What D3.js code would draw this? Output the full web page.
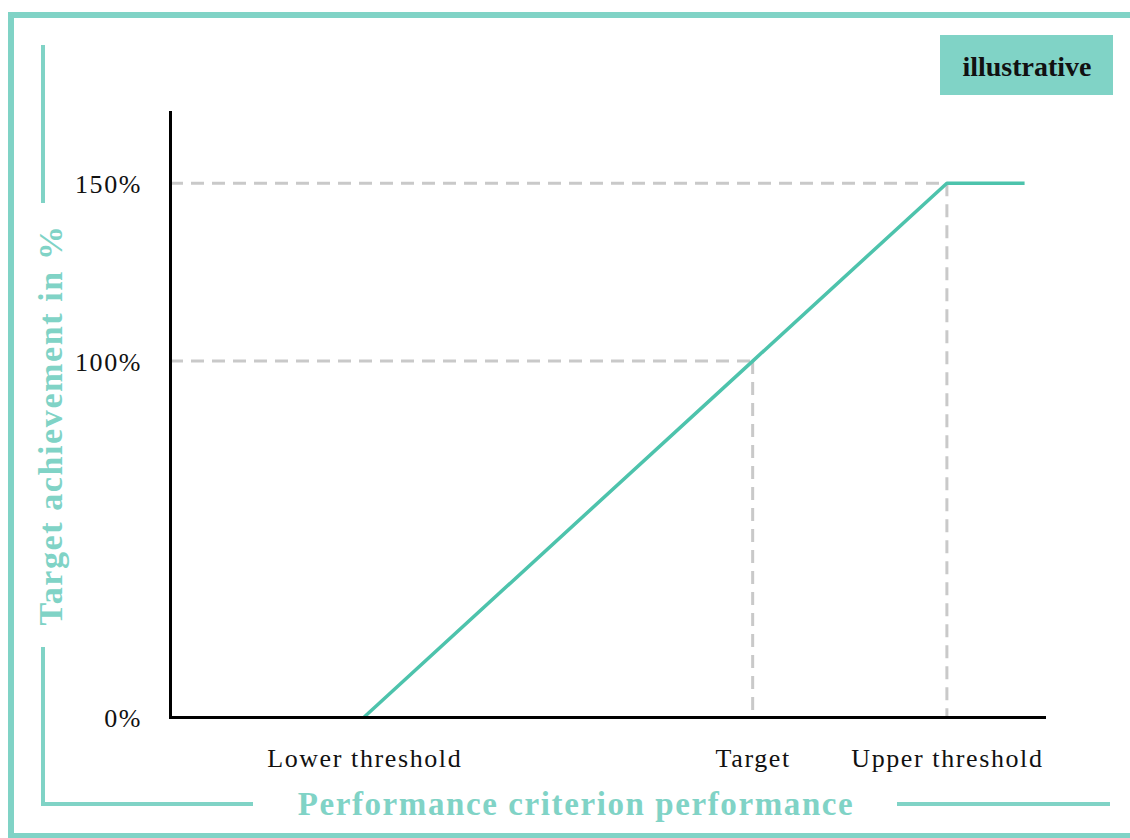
<!DOCTYPE html>
<html>
<head>
<meta charset="utf-8">
<script src="https://cdn.jsdelivr.net/npm/d3@7"></script>
<style>
  html, body { margin: 0; padding: 0; background: #ffffff; }
  svg { display: block; }
  text { font-family: "Liberation Serif", "Times New Roman", serif; }
</style>
</head>
<body>
<svg id="chart" width="1130" height="838"></svg>
<script>
// Payout curve: performance (x) vs. target achievement (y)
const xKeys = ["Lower threshold", "Target", "Upper threshold"];
const xKeyValues = [0, 100, 150];
const yTickValues = [0, 100, 150];
const yTickLabels = ["0%", "100%", "150%"];
const curveX = [0, 100, 150, 170];
const curveY = [0, 100, 150, 150];
const yTitle = "Target achievement in %";
const xTitle = "Performance criterion performance";
const badgeText = "illustrative";

const teal = "#80d3c6";
const lineTeal = "#4dc3ac";
const dashGrey = "#c9c9c9";

const svg = d3.select("#chart");

const x = d3.scaleLinear().domain([-50, 175]).range([170, 1044]);
const y = d3.scaleLinear().domain([0, 170]).range([717, 112]);

// Outer frame (open on the right side)
svg.append("path")
  .attr("d", "M1140,15 H11 V836 H1140")
  .attr("fill", "none")
  .attr("stroke", teal)
  .attr("stroke-width", 6);

// Inner bracket around the axis titles
const bracket = svg.append("g")
  .attr("stroke", teal)
  .attr("stroke-width", 4)
  .attr("fill", "none");
bracket.append("path").attr("d", "M43,45 V203");
bracket.append("path").attr("d", "M43,647 V804 H253");
bracket.append("path").attr("d", "M897,804 H1110");

// "illustrative" badge
svg.append("rect")
  .attr("x", 940).attr("y", 35)
  .attr("width", 173).attr("height", 60)
  .attr("fill", teal);
svg.append("text")
  .attr("x", 1027).attr("y", 76)
  .attr("text-anchor", "middle")
  .attr("font-weight", "bold")
  .attr("font-size", 28)
  .attr("fill", "#111")
  .text(badgeText);

// Reference guides (dashed) from the axes to the curve's key points
const guides = svg.append("g")
  .attr("stroke", dashGrey)
  .attr("stroke-width", 3)
  .attr("stroke-dasharray", "13,8")
  .attr("fill", "none");
xKeyValues.forEach((v, i) => {
  const yv = curveY[curveX.indexOf(v)];
  if (yv > 0) {
    guides.append("line")
      .attr("x1", x.range()[0]).attr("x2", x(v))
      .attr("y1", y(yv)).attr("y2", y(yv));
    guides.append("line")
      .attr("x1", x(v)).attr("x2", x(v))
      .attr("y1", y(yv)).attr("y2", y(0));
  }
});

// Curve
const pts = curveX.map((v, i) => [v, curveY[i]]);
svg.append("path")
  .datum(pts)
  .attr("fill", "none")
  .attr("stroke", lineTeal)
  .attr("stroke-width", 3.5)
  .attr("stroke-linejoin", "round")
  .attr("d", d3.line().x(d => x(d[0])).y(d => y(d[1])));

// Axes
const yAxis = svg.append("g")
  .attr("transform", `translate(${x.range()[0]},0)`)
  .call(d3.axisLeft(y)
    .tickValues(yTickValues)
    .tickSize(0)
    .tickPadding(28)
    .tickFormat((d, i) => yTickLabels[i]));
const xAxis = svg.append("g")
  .attr("transform", `translate(0,${y.range()[0]})`)
  .call(d3.axisBottom(x)
    .tickValues(xKeyValues)
    .tickSize(0)
    .tickFormat((d, i) => xKeys[i]));

[yAxis, xAxis].forEach(g => {
  g.select(".domain")
    .attr("stroke", "#000")
    .attr("stroke-width", 3)
    .attr("stroke-linecap", "square");
  g.selectAll("text")
    .attr("font-family", "'Liberation Serif', 'Times New Roman', serif")
    .attr("font-size", 26)
    .attr("letter-spacing", 1.6)
    .attr("fill", "#111");
});
yAxis.selectAll("text").attr("dy", "0.36em");
xAxis.selectAll("text").attr("y", 50).attr("dy", 0);

// Axis titles
svg.append("text")
  .attr("transform", "translate(62,425) rotate(-90)")
  .attr("text-anchor", "middle")
  .attr("font-weight", "bold")
  .attr("font-size", 34)
  .attr("letter-spacing", 1.6)
  .attr("fill", teal)
  .text(yTitle);
svg.append("text")
  .attr("x", 576).attr("y", 815)
  .attr("text-anchor", "middle")
  .attr("font-weight", "bold")
  .attr("font-size", 33)
  .attr("letter-spacing", 1.6)
  .attr("fill", teal)
  .text(xTitle);
</script>
</body>
</html>
